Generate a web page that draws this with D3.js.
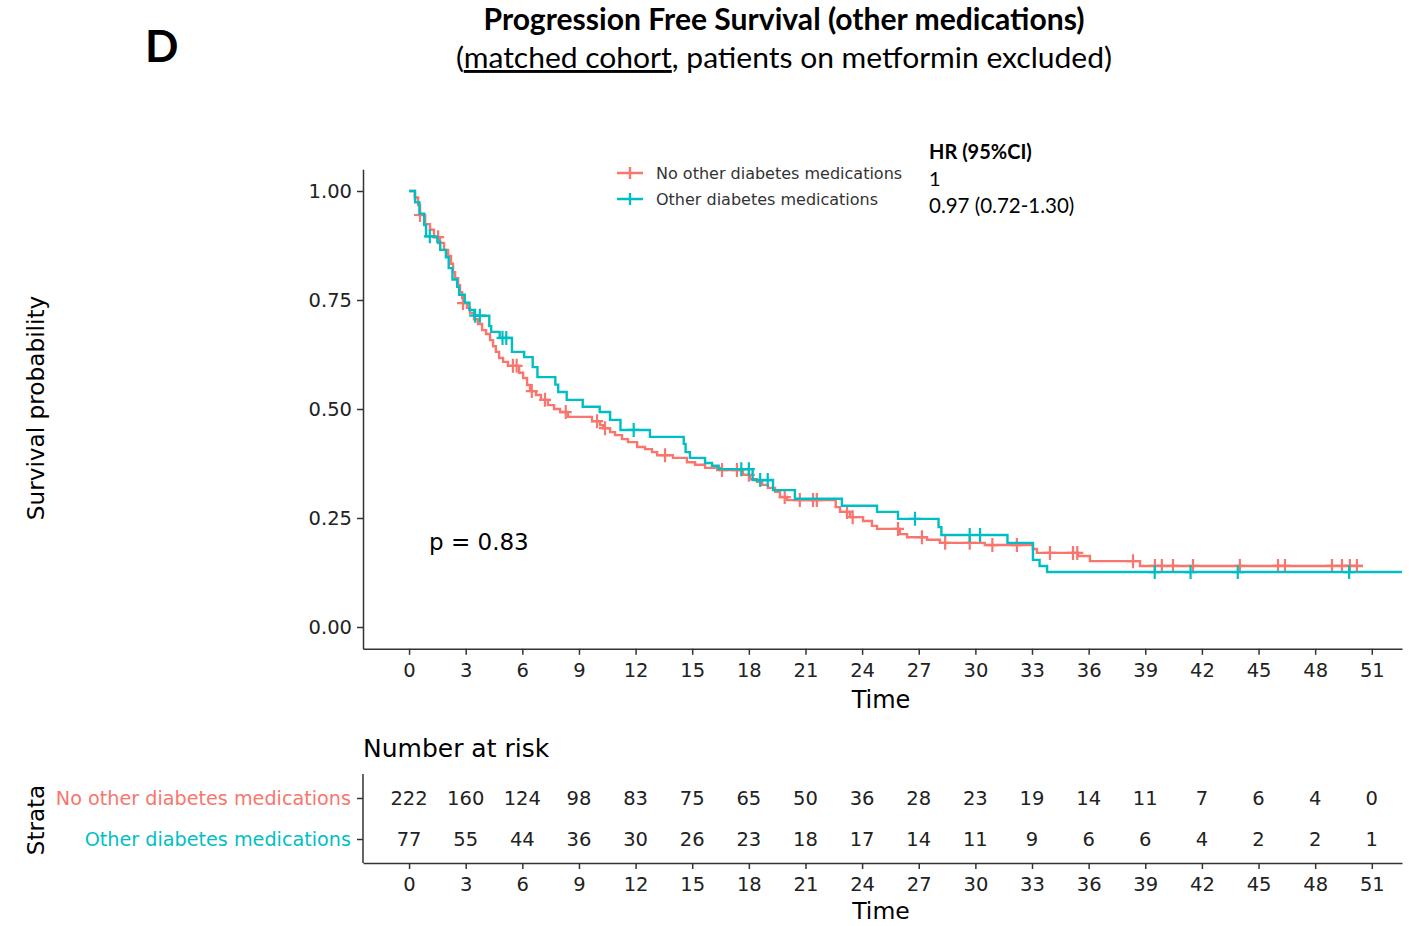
<!DOCTYPE html>
<html>
<head>
<meta charset="utf-8">
<script src="https://cdn.jsdelivr.net/npm/d3@7"></script>
<style>
body { margin: 0; background: #fff; overflow: hidden; }
text { font-family: "DejaVu Sans", "Liberation Sans", Arial, sans-serif; }
.cal { font-family: Lato, "Open Sans", sans-serif; }
</style>
</head>
<body>
<div id="vis"></div>
<script>
var width = 1416,
height = 926;

// strata
var strata = ["No other diabetes medications", "Other diabetes medications"];
var colors = ["#F8766D", "#00BFC4"];

// red curve: step times (months) and survival after step
var redTime = [0, 0.3, 0.48, 0.58, 0.85, 1.11, 1.32, 1.64, 1.85, 2.07, 2.22, 2.33, 2.44, 2.6, 2.7, 2.81, 2.86,
  3.07, 3.23, 3.44, 3.65, 3.87, 4.08, 4.29, 4.45, 4.6, 4.77, 4.98, 5.24, 5.83, 6.04, 6.25, 6.41, 6.73, 6.99,
  7.36, 7.68, 8.0, 8.42, 9.69, 10.12, 10.28, 10.65, 10.91, 11.28, 11.6, 12.08, 12.5, 12.87, 13.14, 13.98,
  14.72, 15.15, 15.68, 16.47, 17.69, 18.06, 18.43, 18.7, 19.01, 19.39, 19.65, 20.02, 22.6, 22.83, 23.36,
  24.05, 24.52, 24.79, 26.0, 26.38, 27.44, 28.12, 30.5, 33.05, 33.26, 35.43, 36.07, 38.72];
var redSurv = [1, 0.985, 0.968, 0.945, 0.924, 0.911, 0.894, 0.881, 0.865, 0.851, 0.833, 0.814, 0.8, 0.784, 0.768, 0.755, 0.743,
  0.732, 0.72, 0.706, 0.695, 0.681, 0.672, 0.658, 0.644, 0.631, 0.617, 0.608, 0.599, 0.583, 0.571, 0.555, 0.541, 0.532, 0.521,
  0.509, 0.5, 0.493, 0.482, 0.472, 0.463, 0.456, 0.447, 0.44, 0.431, 0.424, 0.413, 0.408, 0.401, 0.394, 0.388,
  0.378, 0.372, 0.365, 0.36, 0.349, 0.339, 0.333, 0.326, 0.319, 0.31, 0.298, 0.291, 0.275, 0.264, 0.252,
  0.243, 0.232, 0.225, 0.213, 0.206, 0.2, 0.193, 0.188, 0.179, 0.17, 0.163, 0.151, 0.14];
var redEnd = 50.53;
var redCensor = [0.58, 1.54, 2.86, 5.5, 5.7, 6.5, 7.2, 8.3, 9.96, 10.38, 13.56, 16.58, 17.37, 18.0, 19.9, 20.7,
  21.4, 21.6, 23.2, 23.5, 25.9, 27.17, 28.4, 29.7, 30.9, 32.2, 33.95, 35.17, 35.4, 38.35, 39.51, 39.88,
  40.47, 41.53, 44.01, 46.03, 46.4, 48.89, 49.42, 49.84, 50.21];

// teal curve
var tealTime = [0, 0.32, 0.55, 0.8, 0.9, 1.5, 1.65, 1.95, 2.1, 2.3, 2.55, 2.65, 2.95, 3.2, 3.45, 4.25, 4.35,
  4.8, 5.45, 6.1, 6.55, 6.8, 7.75, 7.9, 8.35, 9.2, 10.1, 10.65, 11.2, 12.76, 14.55, 14.65, 14.88, 15.68,
  16.05, 16.4, 18.2, 19.28, 20.44, 22.93, 24.79, 25.9, 28.05, 28.2, 31.7, 33.05, 33.4, 33.8];
var tealSurv = [1, 0.974, 0.948, 0.922, 0.896, 0.883, 0.865, 0.848, 0.823, 0.797, 0.78, 0.762, 0.744, 0.727, 0.714, 0.69, 0.677,
  0.663, 0.631, 0.619, 0.596, 0.573, 0.556, 0.539, 0.521, 0.505, 0.493, 0.475, 0.452, 0.436, 0.42, 0.401, 0.388, 0.376,
  0.37, 0.362, 0.337, 0.314, 0.294, 0.278, 0.264, 0.248, 0.229, 0.211, 0.193, 0.154, 0.14, 0.126];
var tealEnd = 52.6;
var tealCensor = [1.1, 3.5, 3.75, 4.95, 5.15, 11.9, 17.6, 18.0, 18.6, 19.0, 26.8, 29.7, 30.25, 39.5, 41.4, 43.9, 49.8];

// number at risk
var riskTimes = [0, 3, 6, 9, 12, 15, 18, 21, 24, 27, 30, 33, 36, 39, 42, 45, 48, 51];
var riskRed = [222, 160, 124, 98, 83, 75, 65, 50, 36, 28, 23, 19, 14, 11, 7, 6, 4, 0];
var riskTeal = [77, 55, 44, 36, 30, 26, 23, 18, 17, 14, 11, 9, 6, 6, 4, 2, 2, 1];

var yTicks = [0, 0.25, 0.5, 0.75, 1];

var curves = [
  {name: strata[0], color: colors[0], time: redTime, surv: redSurv, end: redEnd, censor: redCensor, risk: riskRed},
  {name: strata[1], color: colors[1], time: tealTime, surv: tealSurv, end: tealEnd, censor: tealCensor, risk: riskTeal}
];

var svg = d3.select("#vis").append("svg")
.attr("width", width)
.attr("height", height)
.style("display", "block");

var x = d3.scaleLinear().domain([-2.44, 52.6]).range([363, 1402]);
var y = d3.scaleLinear().domain([-0.05, 1.05]).range([648.8, 169.2]);

// headings
svg.append("text").attr("class", "cal")
.attr("x", 145).attr("y", 62)
.style("font-size", "44px").style("font-weight", "bold")
.text("D");

svg.append("text").attr("class", "cal")
.attr("x", 784).attr("y", 30)
.attr("text-anchor", "middle")
.attr("textLength", 601).attr("lengthAdjust", "spacingAndGlyphs")
.style("font-size", "30px").style("font-weight", "bold")
.text("Progression Free Survival (other medications)");

var sub = svg.append("text").attr("class", "cal")
.attr("x", 784).attr("y", 68)
.attr("text-anchor", "middle")
.attr("textLength", 656).attr("lengthAdjust", "spacingAndGlyphs")
.style("font-size", "29px");
sub.append("tspan").text("(");
sub.append("tspan").style("text-decoration", "underline").text("matched cohort");
sub.append("tspan").text(", patients on metformin excluded)");

// axes
var yAxis = d3.axisLeft(y).tickValues(yTicks).tickFormat(d3.format(".2f")).tickSize(6).tickSizeOuter(0).tickPadding(5);
var xAxis = d3.axisBottom(x).tickValues(riskTimes).tickSize(6).tickSizeOuter(0).tickPadding(8);

function styleAxis(g) {
  g.selectAll("path, line").attr("stroke", "#333").attr("stroke-width", 1.5);
  g.selectAll("text").attr("fill", "#222").style("font-size", "19.5px")
  .style("font-family", "'DejaVu Sans', 'Liberation Sans', sans-serif");
}

svg.append("g").attr("transform", "translate(363,0)").call(yAxis).call(styleAxis);
svg.append("g").attr("transform", "translate(0,648.8)").call(xAxis).call(styleAxis);

svg.append("text")
.attr("transform", "translate(44,408) rotate(-90)")
.attr("text-anchor", "middle")
.style("font-size", "23.2px")
.text("Survival probability");

svg.append("text")
.attr("x", 881).attr("y", 708)
.attr("text-anchor", "middle")
.style("font-size", "24px")
.text("Time");

// curves
function survAt(c, t) {
  var i = d3.bisectRight(c.time, t) - 1;
  return c.surv[Math.max(i, 0)];
}

var line = d3.line()
.x(function(d) { return x(d[0]); })
.y(function(d) { return y(d[1]); })
.curve(d3.curveStepAfter);

var plot = svg.append("g");

curves.forEach(function(c) {
  var pts = c.time.map(function(t, i) { return [t, c.surv[i]]; });
  pts.push([c.end, c.surv[c.surv.length - 1]]);
  plot.append("path")
  .datum(pts)
  .attr("fill", "none")
  .attr("stroke", c.color)
  .attr("stroke-width", 2.4)
  .attr("d", line);

  plot.selectAll(null)
  .data(c.censor)
  .enter().append("path")
  .attr("d", function(t) {
    var cx = x(t), cy = y(survAt(c, t));
    return "M" + (cx - 6) + "," + cy + "H" + (cx + 6) + "M" + cx + "," + (cy - 7) + "V" + (cy + 7);
  })
  .attr("stroke", c.color)
  .attr("stroke-width", 2.2);
});

svg.append("text")
.attr("x", 429).attr("y", 550)
.style("font-size", "23px")
.text("p = 0.83");

// legend
var legend = svg.append("g").selectAll("g")
.data(curves)
.enter().append("g")
.attr("transform", function(d, i) { return "translate(617," + (173 + i * 26) + ")"; });

legend.append("path")
.attr("d", "M0,0H26M13,-6V6")
.attr("stroke", function(d) { return d.color; })
.attr("stroke-width", 2.4);

legend.append("text")
.attr("x", 39).attr("y", 6)
.attr("fill", "#333")
.style("font-size", "16px")
.text(function(d) { return d.name; });

var hr = svg.append("g");
hr.append("text").attr("class", "cal").attr("x", 929).attr("y", 159)
.style("font-size", "20px").style("font-weight", "bold").text("HR (95%CI)");
hr.append("text").attr("class", "cal").attr("x", 929).attr("y", 186)
.style("font-size", "20px").text("1");
hr.append("text").attr("class", "cal").attr("x", 929).attr("y", 213)
.style("font-size", "20.5px").text("0.97 (0.72-1.30)");

// risk table
svg.append("text")
.attr("x", 363).attr("y", 757)
.style("font-size", "25px")
.text("Number at risk");

var ys = d3.scalePoint().domain(strata).range([774, 863]).padding(0.585);

var sAxis = d3.axisLeft(ys).tickSize(6).tickSizeOuter(0).tickPadding(6);
var gs = svg.append("g").attr("transform", "translate(363,0)").call(sAxis).call(styleAxis);
gs.select(".domain").remove();
gs.selectAll("text").style("font-size", "19.2px")
.attr("fill", function(d, i) { return colors[i]; });
svg.append("line")
.attr("x1", 363).attr("x2", 363).attr("y1", 774).attr("y2", 863)
.attr("stroke", "#333").attr("stroke-width", 1.5);

svg.append("g").attr("transform", "translate(0,863)").call(xAxis).call(styleAxis);

curves.forEach(function(c) {
  svg.append("g").selectAll("text")
  .data(c.risk)
  .enter().append("text")
  .attr("x", function(d, i) { return x(riskTimes[i]); })
  .attr("y", ys(c.name))
  .attr("dy", "0.36em")
  .attr("text-anchor", "middle")
  .attr("fill", "#222")
  .style("font-size", "19.5px")
  .text(function(d) { return d; });
});

svg.append("text")
.attr("transform", "translate(44,820) rotate(-90)")
.attr("text-anchor", "middle")
.style("font-size", "23px")
.text("Strata");

svg.append("text")
.attr("x", 881).attr("y", 919)
.attr("text-anchor", "middle")
.style("font-size", "23.5px")
.text("Time");
</script>
</body>
</html>
